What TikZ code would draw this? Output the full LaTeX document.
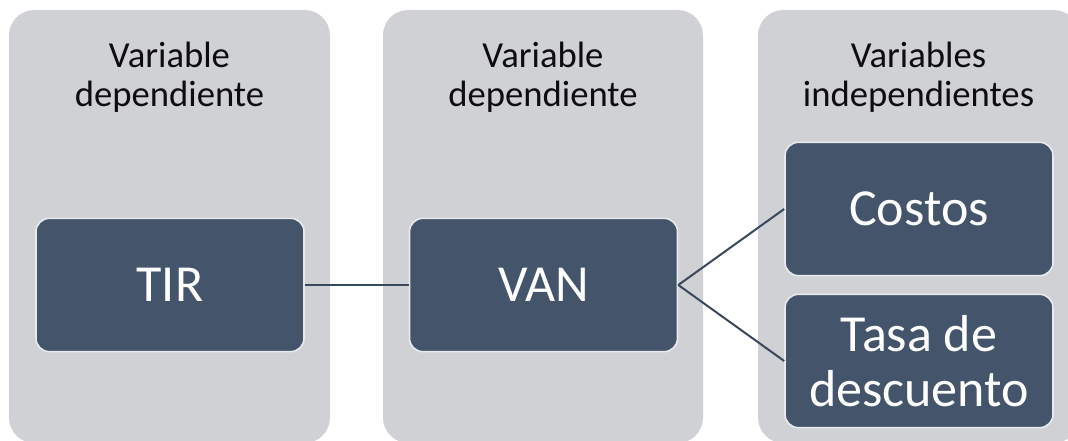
\documentclass[tikz,border=0pt]{standalone}
\usepackage{fontspec}
\setmainfont{Carlito}
\usepackage{xcolor}
\usepackage{tikz}
\usetikzlibrary{positioning}

\definecolor{colgray}{RGB}{208,209,213}
\definecolor{slate}{RGB}{68,84,106}
\definecolor{linkcol}{RGB}{58,72,92}

\begin{document}
\begin{tikzpicture}[x=0.75pt,y=-0.75pt,
    column/.style={fill=colgray, rounded corners=19pt},
    header/.style={align=center, text=black!95, inner sep=0pt,
        font=\fontsize{27.5}{29}\selectfont},
    varbox/.style={fill=slate, draw=white!88!slate, line width=1.2pt,
        rounded corners=10pt, minimum width=201pt, minimum height=100pt,
        inner sep=0pt, align=center, text=white,
        font=\fontsize{39}{41}\selectfont},
    link/.style={draw=linkcol, line width=1.5pt}]
    \useasboundingbox (0,0) rectangle (1068,441);

    % Columns with their headers
    \foreach \l/\r/\title [count=\i] in {9/330/{Variable\\dependiente},
        383/703/{Variable\\dependiente}, 758/1079/{Variables\\independientes}} {
        \fill[column] (\l,10) rectangle (\r,443);
        \node[header] (head\i) at ({(\l+\r)/2},77) {\title};
    }

    % Variables
    \node[varbox] (tir) at (170,285) {TIR};
    \node[varbox] (van) at (543.5,285) {VAN};
    \node[varbox] (costos) at (919,209) {Costos};
    \node[varbox] (tasa) at (919,361) {Tasa de\\descuento};

    % Links
    \draw[link] (tir) -- (van);
    \draw[link] (van.east) -- (costos.west);
    \draw[link] (van.east) -- (tasa.west);
\end{tikzpicture}
\end{document}
